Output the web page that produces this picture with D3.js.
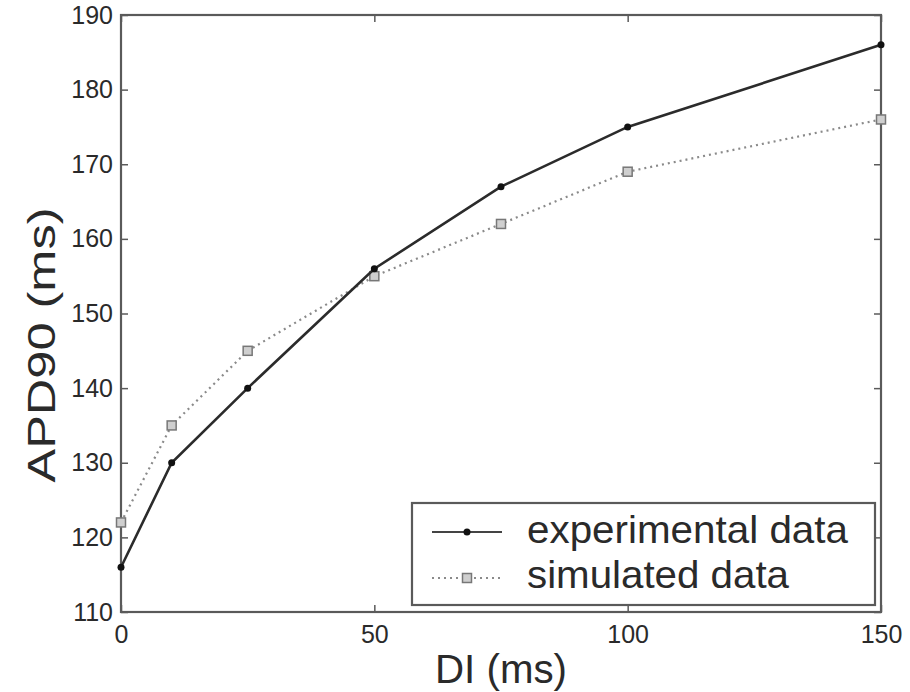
<!DOCTYPE html>
<html>
<head>
<meta charset="utf-8">
<script src="https://cdn.jsdelivr.net/npm/d3@7"></script>
<style>
  html, body { margin: 0; padding: 0; background: #fff; }
  svg { display: block; }
  text { font-family: "Liberation Sans", Arial, Helvetica, sans-serif; fill: #2a2a2a; }
</style>
</head>
<body>
<svg id="chart" width="910" height="692"></svg>
<script>
// Diastolic interval (ms) at which APD90 was measured
const di = [0, 10, 25, 50, 75, 100, 150];
// APD90 (ms) restitution values
const experimental = [116, 130, 140, 156, 167, 175, 186];
const simulated = [122, 135, 145, 155, 162, 169, 176];
const xTicks = [0, 50, 100, 150];
const yTicks = [110, 120, 130, 140, 150, 160, 170, 180, 190];
const seriesNames = ["experimental data", "simulated data"];

(function draw() {
  const svg = d3.select("#chart");
  const plotLeft = 121, plotRight = 881, plotTop = 15, plotBottom = 612;

  const x = d3.scaleLinear().domain([0, 150]).range([plotLeft, plotRight]);
  const y = d3.scaleLinear().domain([110, 190]).range([plotBottom, plotTop]);

  const axisColor = "#5a5a5a";
  const tickLen = 7;

  // Axes on all four sides, ticks pointing inward
  const g = svg.append("g");
  g.append("g")
    .attr("transform", `translate(0,${plotBottom})`)
    .call(d3.axisBottom(x).tickValues(xTicks).tickSizeInner(-tickLen).tickSizeOuter(0).tickPadding(13))
    .call(a => a.selectAll("text").attr("font-size", 25).attr("dy", "0.71em"));
  g.append("g")
    .attr("transform", `translate(0,${plotTop})`)
    .call(d3.axisTop(x).tickValues(xTicks).tickSizeInner(-tickLen).tickSizeOuter(0).tickFormat(""));
  g.append("g")
    .attr("transform", `translate(${plotLeft},0)`)
    .call(d3.axisLeft(y).tickValues(yTicks).tickSizeInner(-tickLen).tickSizeOuter(0).tickPadding(8))
    .call(a => a.selectAll("text").attr("font-size", 25));
  g.append("g")
    .attr("transform", `translate(${plotRight},0)`)
    .call(d3.axisRight(y).tickValues(yTicks).tickSizeInner(-tickLen).tickSizeOuter(0).tickFormat(""));

  g.selectAll(".domain").remove();
  g.selectAll(".tick line").attr("stroke", axisColor).attr("stroke-width", 1.5);
  g.selectAll(".tick text").attr("fill", "#333");

  // Frame
  svg.append("rect")
    .attr("x", plotLeft).attr("y", plotTop)
    .attr("width", plotRight - plotLeft).attr("height", plotBottom - plotTop)
    .attr("fill", "none").attr("stroke", axisColor).attr("stroke-width", 2.2);

  // Axis titles
  svg.append("text")
    .attr("x", 501).attr("y", 683)
    .attr("text-anchor", "middle")
    .attr("font-size", 40)
    .attr("textLength", 132)
    .attr("lengthAdjust", "spacingAndGlyphs")
    .text("DI (ms)");
  svg.append("text")
    .attr("transform", "translate(55,345) rotate(-90)")
    .attr("text-anchor", "middle")
    .attr("font-size", 38)
    .attr("textLength", 275)
    .attr("lengthAdjust", "spacingAndGlyphs")
    .text("APD90 (ms)");

  const line = d3.line().x(d => x(d[0])).y(d => y(d[1]));
  const expPts = di.map((d, i) => [d, experimental[i]]);
  const simPts = di.map((d, i) => [d, simulated[i]]);

  // Simulated series: dotted grey line with square markers
  svg.append("path")
    .datum(simPts)
    .attr("d", line)
    .attr("fill", "none")
    .attr("stroke", "#8a8a8a")
    .attr("stroke-width", 2.2)
    .attr("stroke-dasharray", "2,4");
  svg.append("g").selectAll("rect")
    .data(simPts)
    .join("rect")
    .attr("x", d => x(d[0]) - 4.5).attr("y", d => y(d[1]) - 4.5)
    .attr("width", 9).attr("height", 9)
    .attr("fill", "#cfcfcf")
    .attr("stroke", "#777")
    .attr("stroke-width", 1.5);

  // Experimental series: solid dark line with point markers
  svg.append("path")
    .datum(expPts)
    .attr("d", line)
    .attr("fill", "none")
    .attr("stroke", "#2b2b2b")
    .attr("stroke-width", 2.6);
  svg.append("g").selectAll("circle")
    .data(expPts)
    .join("circle")
    .attr("cx", d => x(d[0])).attr("cy", d => y(d[1]))
    .attr("r", 3.5)
    .attr("fill", "#111");

  // Legend
  const lg = svg.append("g");
  lg.append("rect")
    .attr("x", 412).attr("y", 503)
    .attr("width", 463).attr("height", 102)
    .attr("fill", "#fff")
    .attr("stroke", axisColor).attr("stroke-width", 2.2);

  const legendRows = [
    { name: seriesNames[0], cy: 532, base: 543, len: 321 },
    { name: seriesNames[1], cy: 578, base: 588, len: 262 }
  ];
  // experimental sample
  lg.append("line")
    .attr("x1", 432).attr("x2", 502).attr("y1", legendRows[0].cy).attr("y2", legendRows[0].cy)
    .attr("stroke", "#444").attr("stroke-width", 2.2);
  lg.append("circle")
    .attr("cx", 467).attr("cy", legendRows[0].cy).attr("r", 3.5).attr("fill", "#111");
  // simulated sample
  lg.append("line")
    .attr("x1", 432).attr("x2", 502).attr("y1", legendRows[1].cy).attr("y2", legendRows[1].cy)
    .attr("stroke", "#8a8a8a").attr("stroke-width", 2.2).attr("stroke-dasharray", "2,4");
  lg.append("rect")
    .attr("x", 462.5).attr("y", legendRows[1].cy - 4.5).attr("width", 9).attr("height", 9)
    .attr("fill", "#cfcfcf").attr("stroke", "#777").attr("stroke-width", 1.5);

  lg.selectAll("text.lbl")
    .data(legendRows)
    .join("text")
    .attr("class", "lbl")
    .attr("x", 527)
    .attr("y", d => d.base)
    .attr("font-size", 39)
    .attr("textLength", d => d.len)
    .attr("lengthAdjust", "spacingAndGlyphs")
    .text(d => d.name);
})();
</script>
</body>
</html>
